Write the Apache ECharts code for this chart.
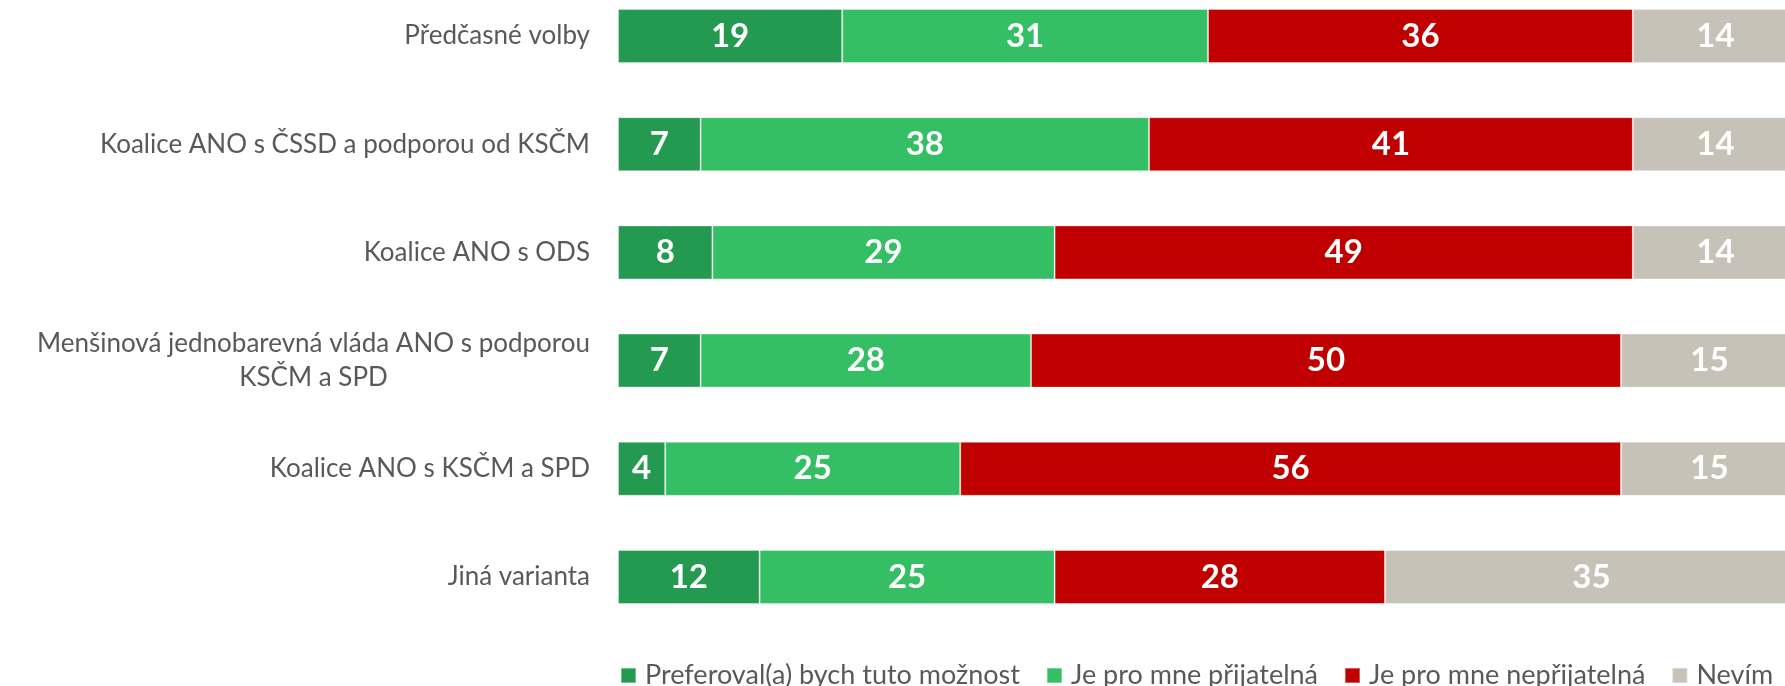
<!DOCTYPE html>
<html>
<head>
<meta charset="utf-8">
<script src="https://cdn.jsdelivr.net/npm/echarts@6/dist/echarts.min.js"></script>
<style>
	html, body { margin: 0; padding: 0; background: #fff; }
	#chart { width: 1785px; height: 686px; }
</style>
</head>
<body>
<div id="chart"></div>
<script>
const categories = [
	'Předčasné volby',
	'Koalice ANO s ČSSD a podporou od KSČM',
	'Koalice ANO s ODS',
	'Menšinová jednobarevná vláda ANO s podporou\nKSČM a SPD',
	'Koalice ANO s KSČM a SPD',
	'Jiná varianta'
]
const seriesNames = ['Preferoval(a) bych tuto možnost', 'Je pro mne přijatelná', 'Je pro mne nepřijatelná', 'Nevím']
const preferoval = [19, 7, 8, 7, 4, 12]
const prijatelna = [31, 38, 29, 28, 25, 25]
const neprijatelna = [36, 41, 49, 50, 56, 28]
const nevim = [14, 14, 14, 15, 15, 35]
const colorList = ['#249A50', '#35BF64', '#C00000', '#C7C2B7']

const fontFamily = 'Lato'
const seriesValues = [preferoval, prijatelna, neprijatelna, nevim]

let series = []
seriesValues.forEach((values, index) => {
	series.push({
		name: seriesNames[index],
		type: 'bar',
		stack: 'total',
		barWidth: 54,
		itemStyle: {
			color: colorList[index],
			borderColor: 'rgba(255, 255, 255, 0.35)',
			borderWidth: 1
		},
		label: {
			show: true,
			position: 'inside',
			color: '#fff',
			fontFamily: fontFamily,
			fontWeight: 'bold',
			fontSize: 33,
			formatter: (params) => Math.round(params.value)
		},
		data: values
	})
})

// the last legend item sits a bit further right in the original
let legendData = seriesNames.map((name, index) => {
	return index === 2 ? { name: name, textStyle: { padding: [0, 9, 0, 4] } } : { name: name }
})

const option = {
	animation: false,
	legend: {
		left: 620,
		top: 662,
		padding: 0,
		icon: 'rect',
		itemWidth: 15,
		itemHeight: 15,
		itemGap: 26,
		textStyle: {
			fontFamily: fontFamily,
			fontSize: 27,
			color: '#595959',
			padding: [0, 0, 0, 4]
		},
		data: legendData
	},
	// plot runs a little past the right edge of the picture
	grid: {
		left: 618,
		right: -13,
		top: 36,
		bottom: 109,
		outerBoundsMode: 'none'
	},
	xAxis: {
		type: 'value',
		min: 0,
		max: 100,
		show: false
	},
	yAxis: {
		type: 'category',
		inverse: true,
		boundaryGap: false,
		data: categories,
		axisLine: { show: false },
		axisTick: { show: false },
		splitLine: { show: false },
		axisLabel: {
			margin: 28,
			fontFamily: fontFamily,
			fontSize: 26,
			color: '#595959',
			lineHeight: 34,
			formatter: (value) => value.split('\n').map(line => '{c|' + line + '}').join('\n'),
			rich: {
				c: {
					align: 'center',
					fontFamily: fontFamily,
					fontSize: 26,
					color: '#595959',
					lineHeight: 34
				}
			}
		}
	},
	series: series
}

let myChart = echarts.init(document.getElementById('chart'))
myChart.setOption(option)
</script>
</body>
</html>
